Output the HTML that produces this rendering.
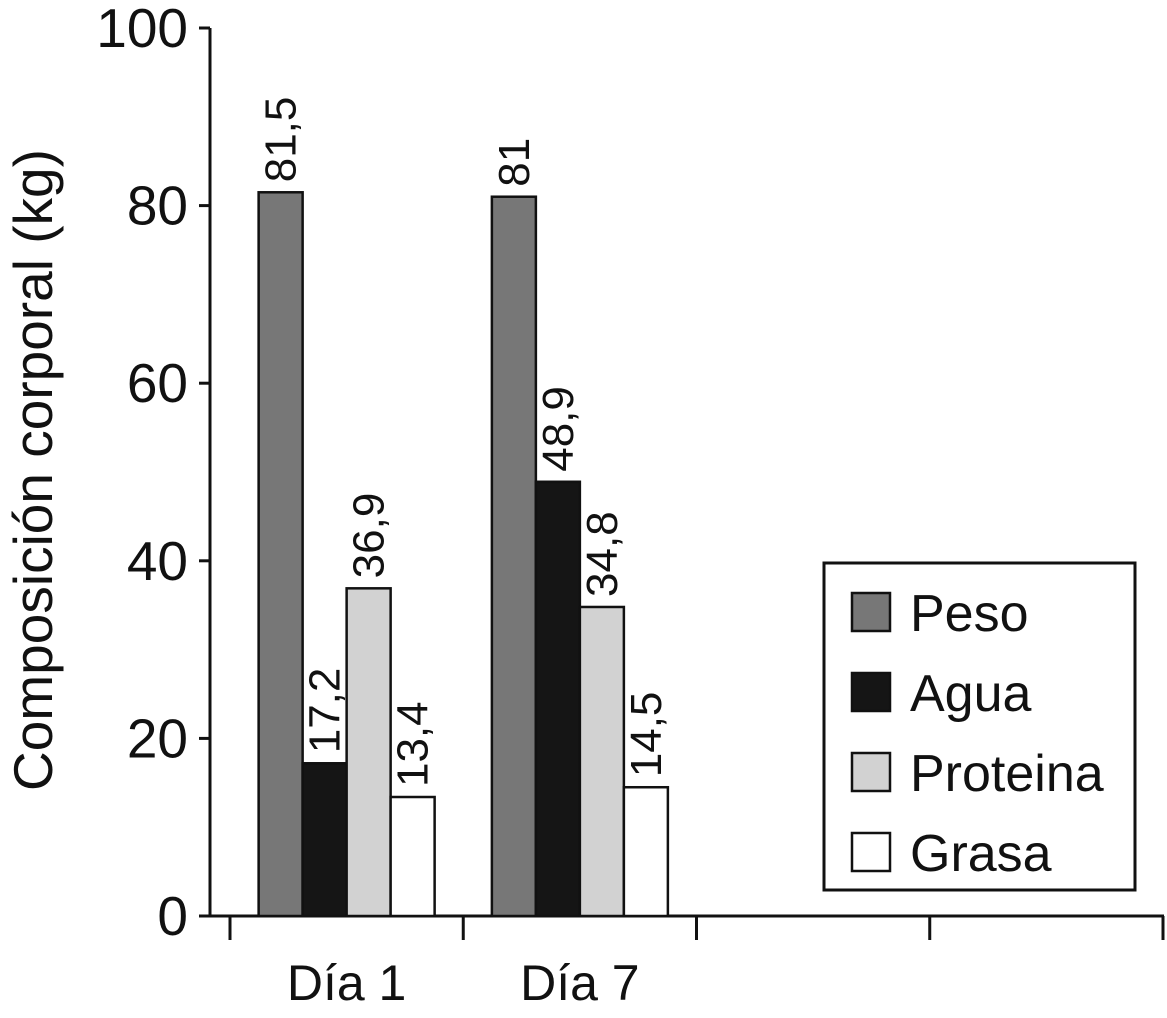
<!DOCTYPE html>
<html><head><meta charset="utf-8"><style>
html,body{margin:0;padding:0;background:#fff;}
svg{display:block;font-family:"Liberation Sans",Arial,sans-serif;}
</style></head><body>
<svg id="chart" width="1167" height="1018" viewBox="0 0 1167 1018" xmlns="http://www.w3.org/2000/svg">
<g id="axes"></g>
<g id="bars"></g>
<g id="legend"></g>
<text transform="translate(52,470) rotate(-90)" text-anchor="middle" font-size="55" fill="#111">Composición corporal (kg)</text>
</svg>
<script>
const categories = ["Día 1", "Día 7"];
const seriesNames = ["Peso", "Agua", "Proteina", "Grasa"];
const peso = [81.5, 81];
const agua = [17.2, 48.9];
const proteina = [36.9, 34.8];
const grasa = [13.4, 14.5];
const valueLabels = [["81,5","81"],["17,2","48,9"],["36,9","34,8"],["13,4","14,5"]];
const yTicks = [0, 20, 40, 60, 80, 100];

const NS = "http://www.w3.org/2000/svg";
const colors = ["#777777", "#151515", "#d2d2d2", "#ffffff"];
const series = [peso, agua, proteina, grasa];
const x0 = 230, band = 233.25, nBands = 4, barW = 44;
const yScale = v => 916 - v * 8.88;
function mk(tag, attrs, parent){const e=document.createElementNS(NS,tag);for(const k in attrs)e.setAttribute(k,attrs[k]);parent.appendChild(e);return e;}

const axes = document.getElementById("axes");
let yl = mk("line",{x1:210,y1:28,x2:210,y2:917,stroke:"#111","stroke-width":3},axes);


let xl = mk("line",{x1:210,y1:916,x2:1164,y2:916,stroke:"#111","stroke-width":3},axes);


yTicks.forEach(t=>{
  const y=yScale(t);
  const tk=mk("line",{x1:199,y1:y,x2:210,y2:y,stroke:"#111","stroke-width":3},axes);
  
  
  const tl=mk("text",{x:188,y:y+19,"text-anchor":"end","font-size":55,fill:"#111"},axes);
  
  
  tl.textContent=t;
});
for(let i=0;i<=nBands;i++){
  const x=x0+i*band;
  const tk=mk("line",{x1:x,y1:916,x2:x,y2:940,stroke:"#111","stroke-width":3},axes);
  
  
}
categories.forEach((c,i)=>{
  const tl=mk("text",{x:x0+band*(i+0.5),y:1000,"text-anchor":"middle","font-size":50,fill:"#111"},axes);
  
  
  tl.textContent=c;
});

const bars = document.getElementById("bars");
categories.forEach((c,i)=>{
  const cx=x0+band*(i+0.5);
  series.forEach((s,j)=>{
    const x=cx-2*barW+j*barW, y=yScale(s[i]);
    const r=mk("rect",{x:x,y:y,width:barW,height:916-y,fill:colors[j],stroke:"#111","stroke-width":2.5},bars);
    
    
    const lx=x+barW/2+15, ly=y-10;
    const t=mk("text",{transform:`translate(${lx},${ly}) rotate(-90)`,"font-size":44,fill:"#111"},bars);
    
    
    t.textContent=valueLabels[j][i];
  });
});

const legend = document.getElementById("legend");
const lb=mk("rect",{x:824,y:563,width:311,height:327,fill:"#fff",stroke:"#111","stroke-width":3},legend);


seriesNames.forEach((n,j)=>{
  const y=612+j*80;
  const sw=mk("rect",{x:852,y:y-19,width:38,height:38,fill:colors[j],stroke:"#111","stroke-width":2.5},legend);
  
  
  const t=mk("text",{x:910,y:y+19,"font-size":52,fill:"#111"},legend);
  
  
  t.textContent=n;
});
</script>
</body></html>
